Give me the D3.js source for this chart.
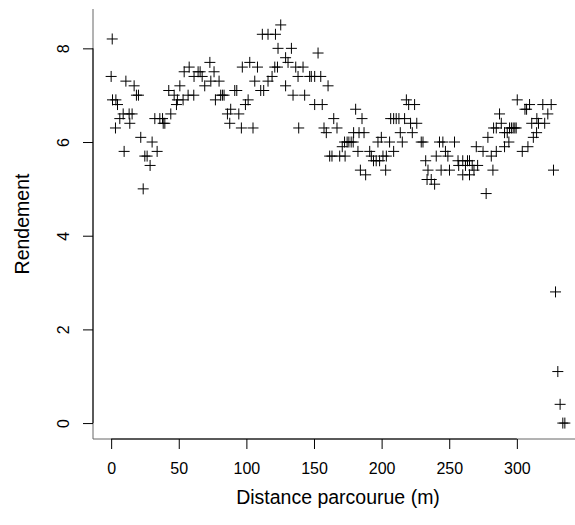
<!DOCTYPE html>
<html>
<head>
<meta charset="utf-8">
<script src="https://cdn.jsdelivr.net/npm/d3@7"></script>
<style>
  body { margin: 0; background: #fff; }
  svg { display: block; }
  text { font-family: "Liberation Sans", Arial, sans-serif; fill: #000; }
</style>
</head>
<body>
<div id="chart-area"></div>
<script>
// distance (m) and yield
const distance = [
  0, 0.8, 1, 3.2, 3.5, 4.7, 6.4, 8.9, 9.6, 10.9, 13.3, 13.8, 15.5, 17, 18.7, 20.2, 21.9, 23.7, 24.9, 26.6,
  28.8, 30.3, 32.3, 34, 36, 38, 38.5, 39.7, 42.6, 44.1, 46.6, 48.3, 49, 50.8, 53.2, 54, 56.9, 57.7, 61.1, 61.3,
  64.3, 65.8, 67.3, 69.2, 73, 73.7, 76.1, 77.1, 79.8, 81, 82.3, 83.5, 86, 87.7, 88.4, 91.4, 92.9, 94.4, 96.3, 97,
  99.3, 101.3, 102.5, 104.9, 106.2, 108.2, 110.6, 111.8, 112.8, 116, 116, 119, 121, 121.5, 123, 123.4, 125.4, 129, 129, 130.8,
  133.3, 134.5, 136.5, 138.2, 138.7, 141.9, 143.1, 146.8, 148, 150.5, 150.5, 153, 155, 156.1, 157.4, 159.1, 160.4, 161.6, 163.3, 164.6,
  167, 169, 170.9, 172.6, 173, 174.5, 175.8, 177.5, 179, 179.3, 180.8, 182.5, 183.3, 184.3, 185.5, 187, 188.2, 191.2, 192.4, 194,
  196, 197.3, 198.5, 199.8, 201, 203, 203.5, 205.9, 206.7, 208.9, 208.9, 210.8, 212.8, 213.8, 215.3, 217, 218.3, 220, 221.4, 222.7,
  224.4, 226, 229.3, 230.6, 232.6, 233.6, 234.3, 236.7, 239.2, 240.4, 242.8, 244, 245.3, 247.2, 249, 250.2, 253.9, 256.5, 257, 260,
  260, 262, 263.5, 265, 265, 267, 268.3, 270, 271, 275, 277.3, 278.6, 281.1, 282.3, 282.8, 284.8, 284.8, 287.2, 288.5, 290.9,
  290.9, 292.9, 294.1, 294.6, 296, 297.3, 298.5, 299.5, 300.3, 304, 306, 307.2, 308.2, 309.4, 311, 312.2, 314.6, 314.8, 316, 319.2,
  320.6, 322.9, 325.4, 327.1, 328.6, 330.3, 332, 334, 335.5
];
const rendement = [
  7.4, 8.2, 6.9, 6.3, 6.9, 6.8, 6.5, 6.6, 5.8, 7.3, 6.6, 6.4, 6.6, 7.2, 7.0, 7.0, 6.1, 5.0, 5.7, 5.7,
  5.5, 6.0, 6.5, 5.8, 6.5, 6.5, 6.4, 6.4, 7.1, 6.6, 7.0, 6.8, 6.9, 7.2, 6.9, 7.5, 7.0, 7.6, 7.0, 7.4,
  7.5, 7.5, 7.4, 7.2, 7.7, 7.3, 7.5, 6.9, 7.3, 7.0, 7.0, 7.0, 6.6, 6.4, 6.7, 7.1, 7.1, 6.6, 6.3, 7.6,
  6.8, 6.9, 7.7, 6.3, 7.3, 7.6, 7.1, 8.3, 7.1, 7.3, 8.3, 7.4, 7.6, 8.3, 7.6, 8.0, 8.5, 7.8, 7.2, 7.7,
  8.0, 7.0, 7.6, 7.4, 6.3, 7.6, 7.0, 7.4, 7.4, 7.4, 6.8, 7.9, 7.4, 6.8, 6.3, 6.2, 7.2, 5.7, 5.7, 6.5,
  6.3, 5.7, 5.9, 6.0, 5.7, 6.0, 6.0, 6.0, 6.0, 6.2, 6.7, 5.8, 6.2, 5.4, 6.5, 6.2, 5.3, 5.8, 5.7, 5.6,
  5.6, 6.0, 5.6, 6.1, 5.7, 5.4, 5.7, 6.0, 6.5, 5.8, 6.5, 6.5, 6.5, 6.2, 6.0, 6.5, 6.9, 6.8, 6.4, 6.2,
  6.8, 6.4, 6.0, 6.0, 5.6, 5.2, 5.4, 5.2, 5.1, 5.7, 6.0, 5.4, 6.0, 5.8, 5.7, 5.4, 6.0, 5.6, 5.5, 5.3,
  5.6, 5.5, 5.6, 5.3, 5.6, 5.5, 5.4, 5.9, 5.5, 5.8, 4.9, 6.1, 5.7, 5.4, 6.3, 5.8, 6.3, 6.6, 6.4, 5.9,
  6.2, 6.2, 6.0, 6.3, 6.3, 6.3, 6.3, 6.3, 6.9, 5.8, 6.7, 6.7, 5.9, 6.8, 6.4, 6.1, 6.2, 6.5, 6.4, 6.8,
  6.4, 6.6, 6.8, 5.4, 2.8, 1.1, 0.4, 0, 0
];
const xTicks = [0, 50, 100, 150, 200, 250, 300];
const yTicks = [0, 2, 4, 6, 8];
const xLabel = "Distance parcourue (m)";
const yLabel = "Rendement";

const W = 575, H = 525;
// plot region (R style: data range padded by 4% each side)
const plot = {left: 93, right: 583, top: 9, bottom: 439};

const data = distance.map(function(d, i) {
  return {x: d, y: rendement[i]};
});

function pad4(ext) {
  const r = ext[1] - ext[0];
  return [ext[0] - 0.04 * r, ext[1] + 0.04 * r];
}

const x = d3.scaleLinear()
  .domain(pad4(d3.extent(distance)))
  .range([plot.left, plot.right]);

const y = d3.scaleLinear()
  .domain(pad4(d3.extent(rendement)))
  .range([plot.bottom, plot.top]);

const svg = d3.select("#chart-area")
  .append("svg")
  .attr("width", W)
  .attr("height", H);

// L-shaped box
svg.append("path")
  .attr("d", "M" + plot.left + "," + plot.top + "V" + plot.bottom + "H" + plot.right)
  .attr("fill", "none")
  .attr("stroke", "#666")
  .attr("stroke-width", 1);

// x axis
const xAxis = d3.axisBottom(x)
  .tickValues(xTicks)
  .tickSize(10)
  .tickPadding(14)
  .tickFormat(d3.format("d"));

const gx = svg.append("g")
  .attr("transform", "translate(0," + plot.bottom + ")")
  .call(xAxis);
gx.select(".domain").remove();
gx.append("line")
  .attr("x1", x(xTicks[0])).attr("x2", x(xTicks[xTicks.length - 1]))
  .attr("stroke", "#000");
gx.selectAll(".tick line").attr("stroke", "#000");
gx.selectAll("text")
  .attr("font-size", 16)
  .attr("font-family", "Liberation Sans, Arial, sans-serif");

// y axis, labels parallel to the axis
const yAxis = d3.axisLeft(y)
  .tickValues(yTicks)
  .tickSize(10)
  .tickFormat(d3.format("d"));

const gy = svg.append("g")
  .attr("transform", "translate(" + plot.left + ",0)")
  .call(yAxis);
gy.select(".domain").remove();
gy.append("line")
  .attr("y1", y(yTicks[0])).attr("y2", y(yTicks[yTicks.length - 1]))
  .attr("stroke", "#000");
gy.selectAll(".tick line").attr("stroke", "#000");
gy.selectAll("text")
  .attr("font-size", 16)
  .attr("font-family", "Liberation Sans, Arial, sans-serif")
  .attr("text-anchor", "middle")
  .attr("transform", "rotate(-90)")
  .attr("x", 0)
  .attr("y", -24)
  .attr("dy", null);

// axis titles (cex.lab ~1.2), centred on the plot region
svg.append("text")
  .attr("x", (plot.left + plot.right) / 2)
  .attr("y", 504)
  .attr("text-anchor", "middle")
  .attr("font-size", 19.5)
  .text(xLabel);

svg.append("text")
  .attr("transform", "translate(29," + ((plot.top + plot.bottom) / 2) + ") rotate(-90)")
  .attr("text-anchor", "middle")
  .attr("font-size", 19.5)
  .text(yLabel);

// points, pch = 3
svg.selectAll(".pt")
  .data(data)
  .enter()
  .append("path")
  .attr("class", "pt")
  .attr("transform", function(d) {
    return "translate(" + x(d.x) + "," + y(d.y) + ")";
  })
  .attr("d", "M-5.5,0H5.5M0,-5.5V5.5")
  .attr("fill", "none")
  .attr("stroke", "#000")
  .attr("stroke-width", 1);
</script>
</body>
</html>
